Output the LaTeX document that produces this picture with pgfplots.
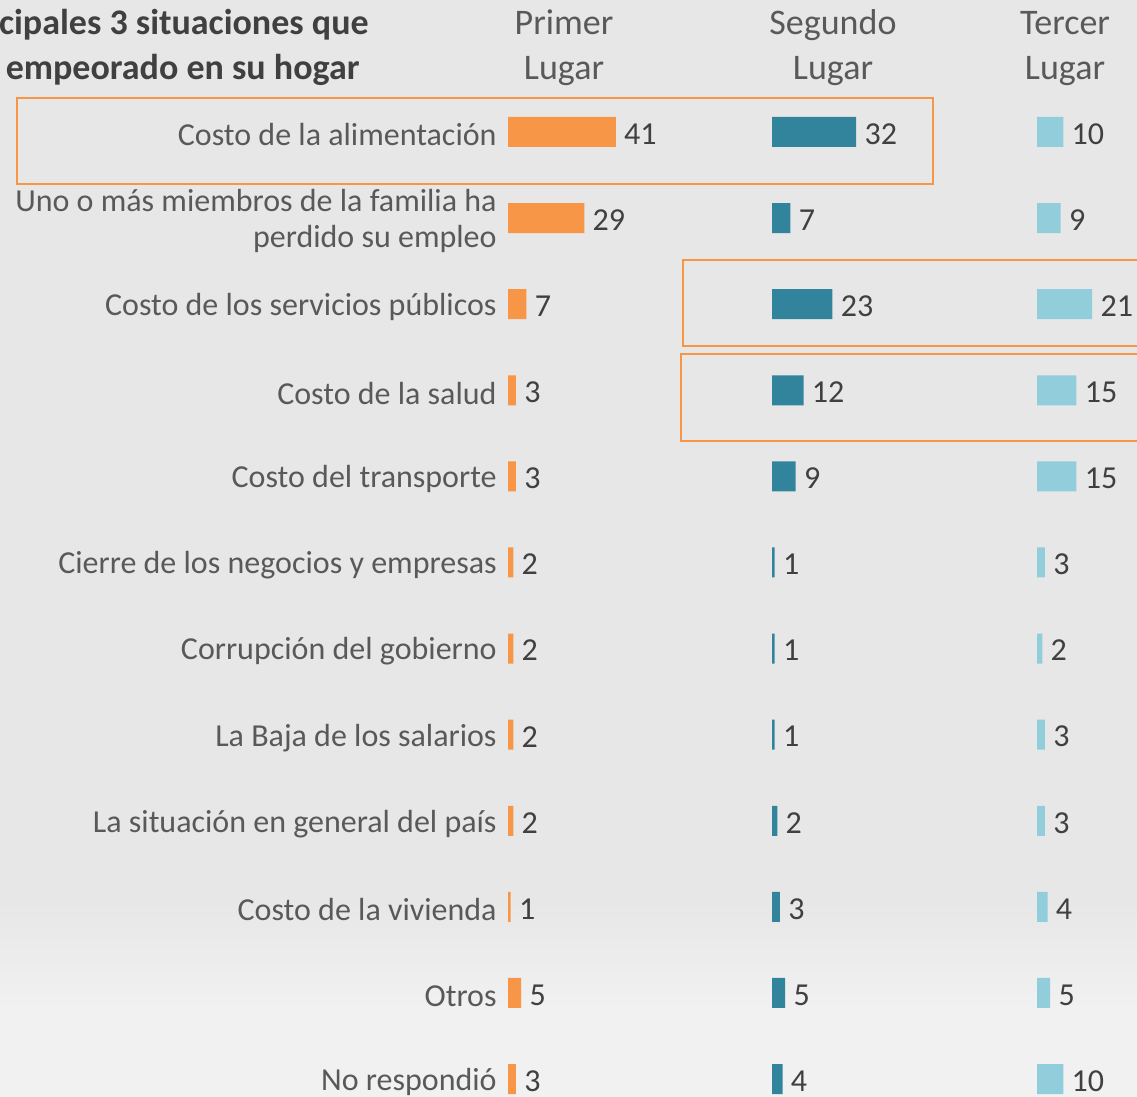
\documentclass[border=0pt]{standalone}
\usepackage{fontspec}
\setmainfont{Carlito}
\usepackage{pgfplots}
\usepackage{pgfplotstable}
\pgfplotsset{compat=1.18}
\definecolor{orng}{HTML}{F79646}
\definecolor{teal2}{HTML}{31849B}
\definecolor{lblue}{HTML}{92CDDC}
\definecolor{bgtop}{HTML}{E7E7E7}
\definecolor{bgbot}{HTML}{F1F1F1}
\definecolor{lab}{HTML}{595959}
\definecolor{num}{HTML}{404040}

\pgfplotstableread{
row p s t
1 41 32 10
2 29 7 9
3 7 23 21
4 3 12 15
5 3 9 15
6 2 1 3
7 2 1 2
8 2 1 3
9 2 2 3
10 1 3 4
11 5 5 5
12 3 4 10
}\datatab

\pgfplotsset{
 colaxis/.style={
  scale only axis, width=65.75pt, height=516.6pt,
  xmin=0, xmax=50, ymin=0.5, ymax=12.5, y dir=reverse,
  axis line style={draw=none}, major tick length=0pt,
  xtick=\empty, ytick=\empty,
  xbar, bar width=15pt,
  point meta=x,
  nodes near coords,
  every node near coord/.append style={font=\fontsize{16}{18}\selectfont, text=num, inner sep=0pt, anchor=west, xshift=4pt, yshift=-1pt},
  /pgf/number format/assume math mode=true,
  clip=false,
  overlay,
 }
}

\begin{document}
\begin{tikzpicture}
\fill[bgtop] (0,98pt) rectangle (568.5pt,548.5pt);
\shade[top color=bgtop,bottom color=bgbot] (0,43pt) rectangle (568.5pt,98.5pt);
\fill[bgbot] (0,0) rectangle (568.5pt,43.5pt);
\begin{scope}
\clip (0,0) rectangle (568.5pt,548.5pt);

\begin{axis}[colaxis, at={(254pt,504.03pt)}, anchor=north west,
  ytick={1,...,12},
  yticklabels={Costo de la alimentación,{Uno o más miembros de la familia ha\\perdido su empleo},Costo de los servicios públicos,Costo de la salud,Costo del transporte,Cierre de los negocios y empresas,Corrupción del gobierno,La Baja de los salarios,La situación en general del país,Costo de la vivienda,Otros,No respondió},
  yticklabel style={font=\fontsize{16}{18}\selectfont, text=lab, align=right, inner sep=0pt, xshift=-5.5pt, yshift=-1.5pt},
]
\addplot[fill=orng, draw=none] table[x=p,y=row]{\datatab};
\end{axis}

\begin{axis}[colaxis, at={(386pt,504.03pt)}, anchor=north west]
\addplot[fill=teal2, draw=none] table[x=s,y=row]{\datatab};
\end{axis}

\begin{axis}[colaxis, at={(518.5pt,504.03pt)}, anchor=north west]
\addplot[fill=lblue, draw=none] table[x=t,y=row]{\datatab};
\end{axis}

\draw[overlay, orng, line width=1pt] (8.5pt,499.5pt) rectangle (466.5pt,456.5pt);
\draw[overlay, orng, line width=1pt] (341.5pt,418.5pt) rectangle (580pt,375.5pt);
\draw[overlay, orng, line width=1pt] (340.5pt,371.5pt) rectangle (580pt,328pt);

\node[overlay, anchor=base east, font=\bfseries\fontsize{18}{23}\selectfont, text=num, inner sep=0pt] at (184.5pt,531pt) {Principales 3 situaciones que};
\node[overlay, anchor=base east, font=\bfseries\fontsize{18}{23}\selectfont, text=num, inner sep=0pt] at (180pt,508.5pt) {han empeorado en su hogar};

\foreach \xx/\ttop in {282pt/Primer, 416.5pt/Segundo, 532.5pt/Tercer}{
  \node[overlay, anchor=base, font=\fontsize{18}{23}\selectfont, text=lab, inner sep=0pt] at (\xx,531pt) {\ttop};
  \node[overlay, anchor=base, font=\fontsize{18}{23}\selectfont, text=lab, inner sep=0pt] at (\xx,508.5pt) {Lugar};
}
\end{scope}
\end{tikzpicture}
\end{document}
